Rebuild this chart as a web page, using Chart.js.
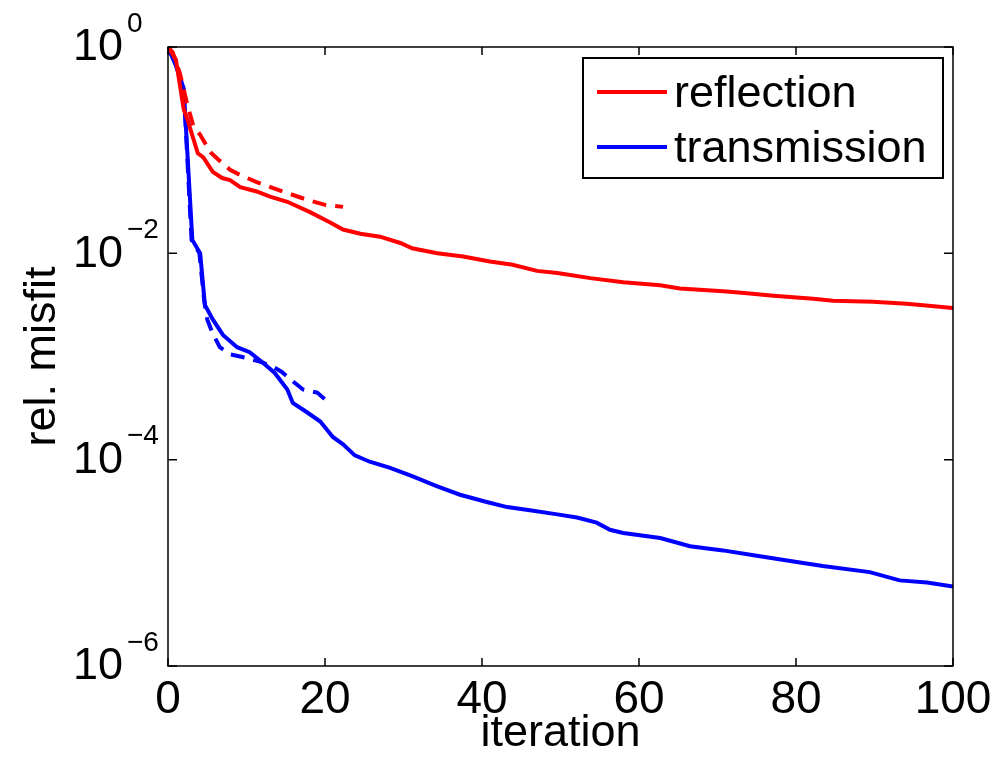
<!DOCTYPE html>
<html>
<head>
<meta charset="utf-8">
<script src="https://cdn.jsdelivr.net/npm/chart.js@4/dist/chart.umd.min.js"></script>
<style>
  html, body { margin: 0; padding: 0; background: #fff; }
  #wrap { width: 999px; height: 765px; position: relative; }
</style>
</head>
<body>
<div id="wrap"><canvas id="misfitChart"></canvas></div>
<script>
// values
const reflIter = [0, 1, 2, 2.5, 3.8, 4.5, 5.7, 6.9, 7.9, 9.2, 11.3, 13, 15.2, 18.1, 20.6, 22.3, 24.5, 27, 29.6, 31.1, 34.3, 37.6, 41, 43.9, 47, 49.6, 53.8, 58, 62.7, 65.2, 71.2, 74.1, 77.1, 82.2, 84.7, 89.8, 94.1, 100];
const reflMisfit = [1, 0.759, 0.251, 0.195, 0.0933, 0.0851, 0.0617, 0.0537, 0.0513, 0.0437, 0.0398, 0.0355, 0.0316, 0.0251, 0.0200, 0.0170, 0.0155, 0.0145, 0.0126, 0.0112, 0.0100, 0.00933, 0.00832, 0.00776, 0.00676, 0.00646, 0.00575, 0.00525, 0.00490, 0.00457, 0.00427, 0.00407, 0.00389, 0.00363, 0.00347, 0.00339, 0.00324, 0.00295];

const reflDashIter = [0, 0.6, 1.5, 2.4, 3.2, 4.1, 5.4, 6.4, 7.9, 9.2, 11.3, 14.6, 17.7, 20, 22.3];
const reflDashMisfit = [1, 0.891, 0.562, 0.288, 0.174, 0.141, 0.0955, 0.0813, 0.0646, 0.0575, 0.0490, 0.0398, 0.0331, 0.0295, 0.0282];

const transIter = [0, 1, 2, 3.1, 4.1, 4.7, 5.7, 7.0, 8.8, 10.4, 12.1, 13.6, 15.2, 15.9, 17.7, 19.4, 21.0, 22.3, 23.8, 25.7, 28.3, 31.1, 34.3, 37.2, 40.6, 43.2, 46.1, 49.6, 52.1, 54.6, 56.3, 58.0, 62.7, 66.5, 70.7, 75.0, 80.1, 83.4, 89.4, 93.2, 96.7, 100];
const transMisfit = [1, 0.661, 0.398, 0.0135, 0.0100, 0.00316, 0.00229, 0.00162, 0.00123, 0.00110, 0.000871, 0.000692, 0.000479, 0.000355, 0.000288, 0.000234, 0.000166, 0.000141, 0.000110, 9.55e-5, 8.32e-5, 6.92e-5, 5.50e-5, 4.57e-5, 3.89e-5, 3.47e-5, 3.24e-5, 2.95e-5, 2.75e-5, 2.45e-5, 2.09e-5, 1.95e-5, 1.74e-5, 1.45e-5, 1.32e-5, 1.17e-5, 1.02e-5, 9.33e-6, 8.13e-6, 6.76e-6, 6.46e-6, 5.89e-6];

const transDashIter = [0, 1, 2, 3, 4, 4.6, 5.0, 5.6, 6.6, 7.9, 9.8, 11.7, 13.4, 14.5, 15.9, 17.2, 19.0, 20.4];
const transDashMisfit = [1, 0.676, 0.398, 0.0135, 0.0100, 0.00355, 0.00229, 0.00174, 0.00123, 0.00105, 0.000977, 0.000891, 0.000794, 0.000708, 0.000575, 0.000479, 0.000447, 0.000363];

const xTicks = [0, 20, 40, 60, 80, 100];
const yTicks = [1e-6, 1e-4, 1e-2, 1];
const legendLabels = ['reflection', 'transmission'];

const FONT = "'Liberation Sans', Arial, Helvetica, sans-serif";
const pts = (xs, ys) => xs.map((x, i) => ({x, y: ys[i]}));

const line = (label, xs, ys, color, dashed) => ({
  label, data: pts(xs, ys), borderColor: color, backgroundColor: color,
  borderWidth: 4, borderDash: dashed ? [14, 9] : [], pointRadius: 0, tension: 0, fill: false
});

// frame, inward tick marks, y tick labels with superscripts, boxed legend
const matlabLook = {
  id: 'matlabLook',
  afterDraw(chart) {
    const {ctx, chartArea: a, scales: {x, y}} = chart;
    ctx.save();
    ctx.strokeStyle = '#000';
    ctx.lineWidth = 1.5;
    ctx.strokeRect(a.left, a.top, a.right - a.left, a.bottom - a.top);

    ctx.beginPath();
    xTicks.forEach(v => {
      const px = x.getPixelForValue(v);
      ctx.moveTo(px, a.bottom); ctx.lineTo(px, a.bottom - 8);
      ctx.moveTo(px, a.top); ctx.lineTo(px, a.top + 8);
    });
    yTicks.forEach(v => {
      const py = y.getPixelForValue(v);
      ctx.moveTo(a.left, py); ctx.lineTo(a.left + 9, py);
      ctx.moveTo(a.right, py); ctx.lineTo(a.right - 9, py);
    });
    ctx.stroke();

    ctx.fillStyle = '#000';
    yTicks.forEach(v => {
      const py = y.getPixelForValue(v);
      const e = Math.round(Math.log10(v));
      ctx.font = '45px ' + FONT;
      ctx.textAlign = 'right';
      ctx.textBaseline = 'middle';
      ctx.fillText('10', 123, py + 1);
      ctx.font = '28px ' + FONT;
      ctx.textAlign = 'left';
      ctx.fillText(e < 0 ? '\u2212' + (-e) : String(e), 127, py - 23);
    });

    // legend box
    const bx = 583, by = 58, bw = 360, bh = 120;
    ctx.fillStyle = '#fff';
    ctx.fillRect(bx, by, bw, bh);
    ctx.lineWidth = 2;
    ctx.strokeStyle = '#000';
    ctx.strokeRect(bx, by, bw, bh);
    const rows = [chart.data.datasets[0], chart.data.datasets[2]];
    rows.forEach((ds, i) => {
      const ly = 92 + i * 55;
      ctx.beginPath();
      ctx.strokeStyle = ds.borderColor;
      ctx.lineWidth = 4;
      ctx.moveTo(597, ly); ctx.lineTo(667, ly);
      ctx.stroke();
      ctx.fillStyle = '#000';
      ctx.font = '45px ' + FONT;
      ctx.textAlign = 'left';
      ctx.textBaseline = 'alphabetic';
      ctx.fillText(legendLabels[i], 674, 107 + i * 55);
    });
    ctx.restore();
  }
};

new Chart(document.getElementById('misfitChart'), {
  type: 'line',
  data: {
    datasets: [
      line('reflection', reflIter, reflMisfit, '#ff0000', false),
      line('reflection (dashed)', reflDashIter, reflDashMisfit, '#ff0000', true),
      line('transmission', transIter, transMisfit, '#0000ff', false),
      line('transmission (dashed)', transDashIter, transDashMisfit, '#0000ff', true)
    ]
  },
  options: {
    responsive: true,
    maintainAspectRatio: false,
    animation: false,
    layout: {padding: {top: 47, right: 46, left: 0, bottom: 0}},
    plugins: {legend: {display: false}, tooltip: {enabled: false}},
    scales: {
      x: {
        type: 'linear', min: 0, max: 100,
        afterBuildTicks: s => { s.ticks = xTicks.map(v => ({value: v})); },
        afterFit: s => { s.height = 99; s.paddingLeft = 0; s.paddingRight = 0; },
        grid: {display: false, drawTicks: false},
        border: {display: false},
        ticks: {color: '#000', padding: 11, font: {family: FONT, size: 46, lineHeight: 1}, maxRotation: 0},
        title: {display: true, text: 'iteration', color: '#000', font: {family: FONT, size: 45, lineHeight: 1}, padding: {top: 0, bottom: 9}}
      },
      y: {
        type: 'logarithmic', min: 1e-6, max: 1,
        afterBuildTicks: s => { s.ticks = yTicks.map(v => ({value: v})); },
        afterFit: s => { s.width = 168; s.paddingTop = 0; s.paddingBottom = 0; },
        grid: {display: false, drawTicks: false},
        border: {display: false},
        ticks: {display: false},
        title: {display: true, text: 'rel. misfit', color: '#000', font: {family: FONT, size: 45, lineHeight: 1}, padding: {top: 20, bottom: 0}}
      }
    }
  },
  plugins: [matlabLook]
});
</script>
</body>
</html>
